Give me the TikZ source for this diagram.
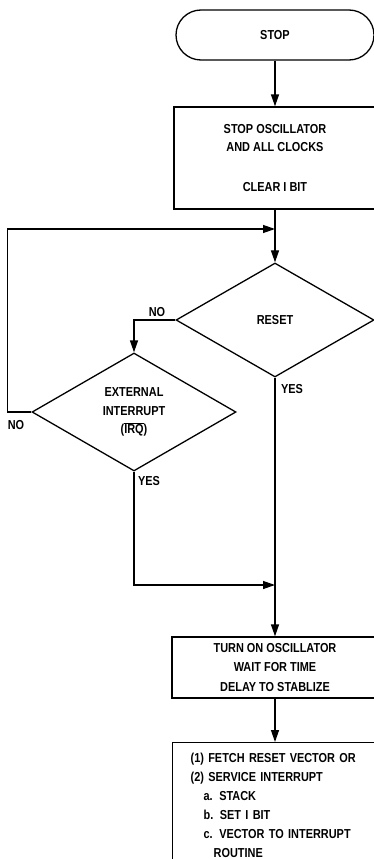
\documentclass[tikz,border=0pt]{standalone}
\usepackage{fontspec}
\setmainfont{Liberation Sans}[FakeStretch=0.84]
\usetikzlibrary{arrows.meta,shapes.geometric}
\tikzset{
  every node/.style={font=\bfseries\fontsize{13}{18.5}\selectfont},
  line/.style={line width=1.3pt},
  arr/.style={line, -{Triangle[length=12pt,width=8pt]}},
  proc/.style={draw, line width=1.3pt, rectangle, inner sep=0pt, align=center},
  term/.style={draw, line width=1.3pt, rectangle, rounded corners=25pt, inner sep=0pt},
  decide/.style={draw, line width=1.3pt, diamond, inner sep=0pt, align=center},
  lbl/.style={inner sep=0pt}
}
\begin{document}
\begin{tikzpicture}[x=1pt,y=-1pt]
\useasboundingbox (0,0) rectangle (374,859);
\clip (0,0) rectangle (374,859);
\node[term, minimum width=198pt, minimum height=50pt] (stop) at (275,35) {STOP};
\node[proc, minimum width=202pt, minimum height=102pt] (clk) at (275,158) {STOP OSCILLATOR\\AND ALL CLOCKS\\[21pt]CLEAR I BIT};
\node[decide, minimum width=198pt, minimum height=114pt, aspect=1.737] (reset) at (275,320) {RESET};
\node[decide, minimum width=204pt, minimum height=118pt, aspect=1.729] (ext) at (134,412) {EXTERNAL\\INTERRUPT\\($\overline{\hbox{IRQ}}$)};
\node[proc, minimum width=206pt, minimum height=61pt, font=\bfseries\fontsize{13}{19.5}\selectfont] (osc) at (275,667.5) {TURN ON OSCILLATOR\\WAIT FOR TIME\\DELAY TO STABLIZE};
\node[proc, anchor=north west, minimum width=206pt, align=left, text width=170pt, inner xsep=18pt, inner ysep=10pt, font=\bfseries\fontsize{13}{19}\selectfont] (svc) at (172,742)
  {(1) FETCH RESET VECTOR OR\\
   (2) SERVICE INTERRUPT\\
   \hspace*{13pt}a. STACK\\
   \hspace*{13pt}b. SET I BIT\\
   \hspace*{13pt}c. VECTOR TO INTERRUPT\\
   \hspace*{23pt}ROUTINE};
\coordinate (m1) at (275,229);
\coordinate (m2) at (275,585);
\draw[arr] (stop) -- (clk);
\draw[arr] (clk) -- (reset);
\draw[arr] (reset.west) -| (ext.north);
\draw[arr] (ext.west) -- ++(-24,0) |- (m1);
\draw[arr] (reset.south) -- (osc.north);
\draw[arr] (ext.south) |- (m2);
\draw[arr] (osc) -- (svc.north -| osc.south);
\node[lbl] (no1) at (157,312) {NO};
\node[lbl] (no2) at (16,425) {NO};
\node[lbl] (yes1) at (292,389) {YES};
\node[lbl] (yes2) at (149,481) {YES};
\end{tikzpicture}
\end{document}
